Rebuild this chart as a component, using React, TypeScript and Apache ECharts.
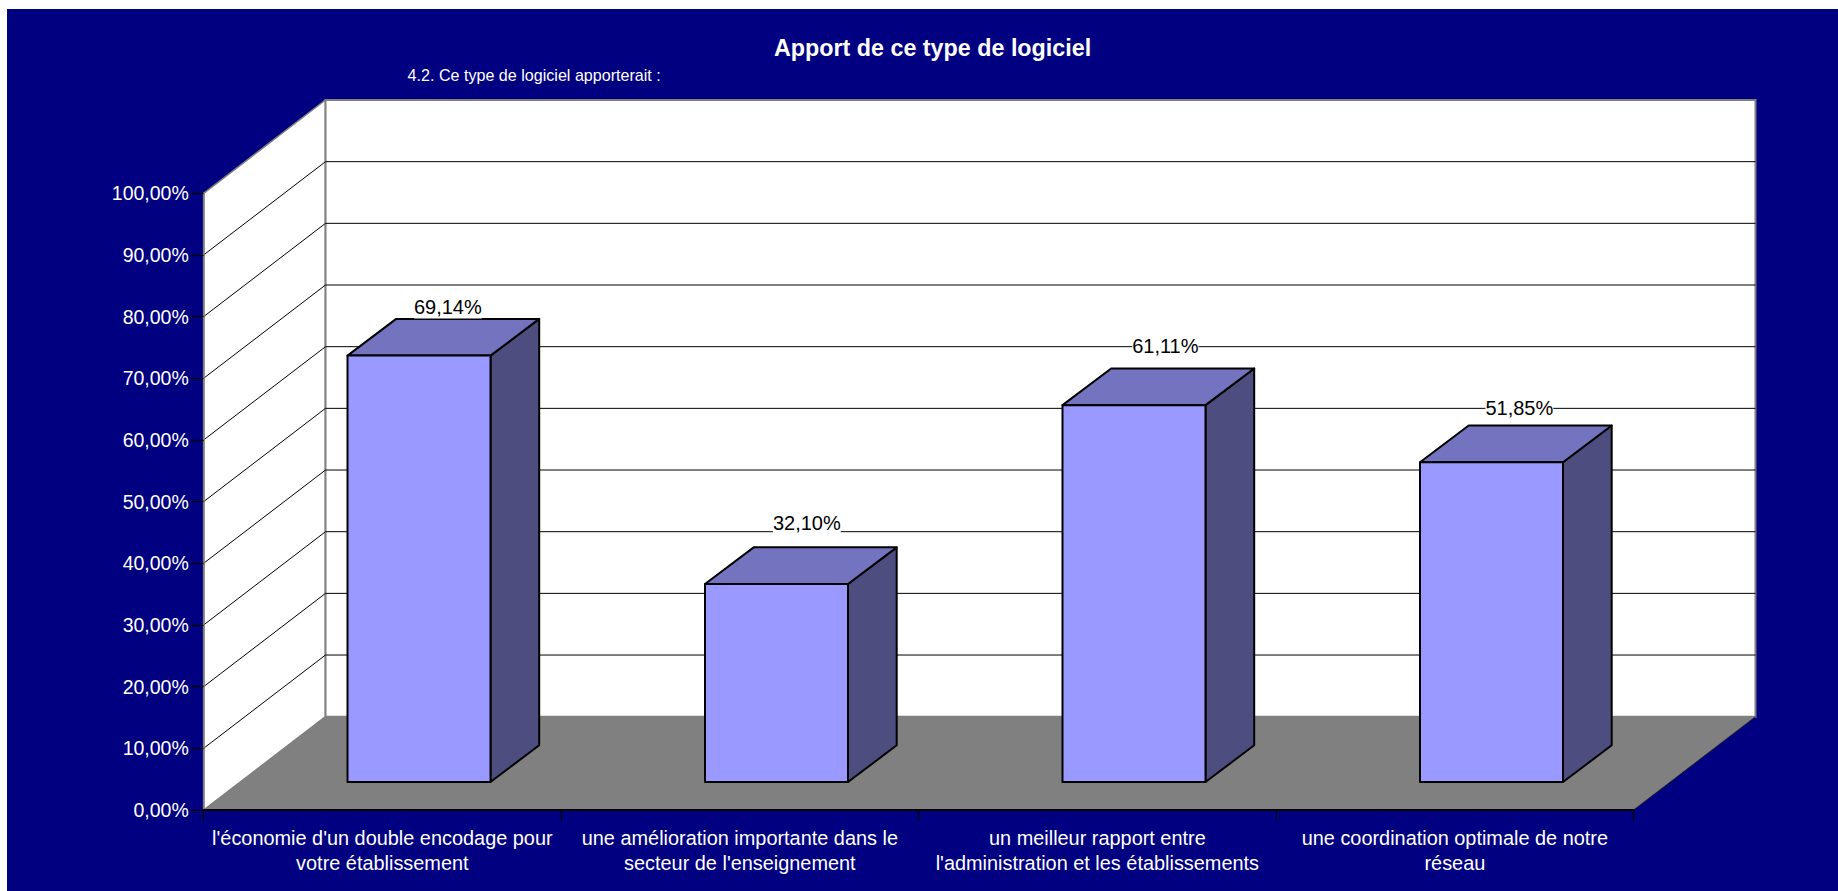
import React, { useEffect, useRef } from "react";
import * as echarts from "echarts";

const categories = [
  "l'économie d'un double encodage pour\nvotre établissement",
  "une amélioration importante dans le\nsecteur de l'enseignement",
  "un meilleur rapport entre\nl'administration et les établissements",
  "une coordination optimale de notre\nréseau",
];
const values = [69.14, 32.1, 61.11, 51.85];
const valueLabels = ["69,14%", "32,10%", "61,11%", "51,85%"];
const gridTicks = [10, 20, 30, 40, 50, 60, 70, 80, 90];
const titleText = "Apport de ce type de logiciel";
const subtitleText = "4.2. Ce type de logiciel apporterait :";

const FONT = '"Liberation Sans", Arial, sans-serif';
const WALL_DX = 121.9;
const WALL_DY = 93.3;
const BAR_DX = 48.7;
const BAR_DY = 36.7;
const FLOOR_DX = 36.65;
const FLOOR_DY = 28;
const LABEL_NUDGE = [
  [4.5, -12.3],
  [6, -24.5],
  [7, -22.4],
  [3.5, -18],
];

export default function App() {
  const ref = useRef<HTMLDivElement>(null);
  useEffect(() => {
    document.body.style.margin = "0";
    const chart = echarts.init(ref.current!, null, { renderer: "svg" });
    chart.setOption({
      animation: false,
      backgroundColor: "#ffffff",
      title: {
        text: titleText,
        left: 769,
        top: 31,
        textStyle: { color: "#ffffff", fontFamily: FONT, fontWeight: "bold", fontSize: 23.3 },
      },
      graphic: [
        { type: "rect", z: -10, shape: { x: 7, y: 9, width: 1831, height: 882 }, style: { fill: "#000080" } },
        {
          type: "text",
          z: 10,
          x: 407.6,
          y: 74.7,
          style: { text: subtitleText, fill: "#ffffff", font: `16.1px ${FONT}`, verticalAlign: "middle" },
        },
      ],
      grid: { left: 203.6, top: 193.3, width: 1430, height: 616.7 },
      xAxis: {
        type: "category",
        data: categories,
        z: 6,
        axisLine: { show: true, lineStyle: { color: "#000000", width: 2 } },
        axisTick: { show: true, alignWithLabel: false, length: 10.7, lineStyle: { color: "#000000", width: 1.2 } },
        axisLabel: { color: "#ffffff", fontFamily: FONT, fontSize: 19.9, lineHeight: 25, margin: 15, interval: 0 },
      },
      yAxis: {
        type: "value",
        min: 0,
        max: 100,
        interval: 10,
        z: 6,
        splitLine: { show: false },
        axisLine: { show: true, lineStyle: { color: "#808080", width: 1.5 } },
        axisTick: { show: true, length: 12.6, lineStyle: { color: "#000000", width: 1.2 } },
        axisLabel: {
          color: "#ffffff",
          fontFamily: FONT,
          fontSize: 19.5,
          margin: 14.8,
          formatter: (v: number) => v.toFixed(2).replace(".", ",") + "%",
        },
      },
      series: [
        {
          type: "custom",
          name: "walls",
          z: 1,
          silent: true,
          data: [[0]],
          encode: { x: 0 },
          renderItem: (p: any) => {
            const cs = p.coordSys;
            const x0 = cs.x;
            const x1 = cs.x + cs.width;
            const yTop = cs.y;
            const yBot = cs.y + cs.height;
            const edge = { stroke: "#808080", lineWidth: 1.5 };
            return {
              type: "group",
              children: [
                {
                  type: "polygon",
                  shape: { points: [[x0, yBot], [x0 + WALL_DX, yBot - WALL_DY], [x0 + WALL_DX, yTop - WALL_DY], [x0, yTop]] },
                  style: { fill: "#ffffff", ...edge },
                },
                {
                  type: "rect",
                  shape: { x: x0 + WALL_DX, y: yTop - WALL_DY, width: x1 - x0, height: yBot - yTop },
                  style: { fill: "#ffffff", ...edge, lineWidth: 2 },
                },
                {
                  type: "polygon",
                  shape: { points: [[x0, yBot], [x1, yBot], [x1 + WALL_DX, yBot - WALL_DY], [x0 + WALL_DX, yBot - WALL_DY]] },
                  style: { fill: "#808080" },
                },
                {
                  type: "line",
                  shape: { x1: x1, y1: yBot, x2: x1 + WALL_DX, y2: yBot - WALL_DY },
                  style: { stroke: "#1a1a1a", lineWidth: 0.8 },
                },
              ],
            };
          },
        },
        {
          type: "custom",
          name: "grid",
          z: 2,
          silent: true,
          data: gridTicks.map((t) => [0, t]),
          encode: { y: 1 },
          renderItem: (p: any, api: any) => {
            const cs = p.coordSys;
            const y = api.coord([0, api.value(1)])[1];
            const x0 = cs.x;
            const x1 = cs.x + cs.width;
            const line = { stroke: "#000000", lineWidth: 1 };
            return {
              type: "group",
              children: [
                { type: "line", shape: { x1: x0, y1: y, x2: x0 + WALL_DX, y2: y - WALL_DY }, style: line },
                { type: "line", shape: { x1: x0 + WALL_DX, y1: y - WALL_DY, x2: x1 + WALL_DX, y2: y - WALL_DY }, style: line },
              ],
            };
          },
        },
        {
          type: "custom",
          name: "bars",
          z: 3,
          silent: true,
          data: values.map((v, i) => [i, v]),
          encode: { x: 0, y: 1 },
          renderItem: (p: any, api: any) => {
            const i = api.value(0);
            const top = api.coord([i, api.value(1)]);
            const base = api.coord([i, 0]);
            const w = api.size([1, 0])[0] * 0.4;
            const l = base[0] + FLOOR_DX - w / 2;
            const r = l + w;
            const yT = top[1] - FLOOR_DY;
            const yB = base[1] - FLOOR_DY;
            const stroke = { stroke: "#000000", lineWidth: 2, lineJoin: "round" };
            const [nx, ny] = LABEL_NUDGE[i];
            return {
              type: "group",
              children: [
                { type: "polygon", shape: { points: [[r, yT], [r + BAR_DX, yT - BAR_DY], [r + BAR_DX, yB - BAR_DY], [r, yB]] }, style: { fill: "#4D4D80", ...stroke } },
                { type: "polygon", shape: { points: [[l, yT], [l + BAR_DX, yT - BAR_DY], [r + BAR_DX, yT - BAR_DY], [r, yT]] }, style: { fill: "#7373BF", ...stroke } },
                { type: "rect", shape: { x: l, y: yT, width: w, height: yB - yT }, style: { fill: "#9999FF", ...stroke } },
                {
                  type: "text",
                  x: (l + r + BAR_DX) / 2 + nx,
                  y: yT - BAR_DY + ny,
                  z2: 10,
                  style: {
                    text: valueLabels[i],
                    fill: "#000000",
                    font: `20px ${FONT}`,
                    align: "center",
                    verticalAlign: "middle",
                    backgroundColor: "#ffffff",
                    padding: [2, 0, 2, 0],
                  },
                },
              ],
            };
          },
        },
      ],
    });
    return () => chart.dispose();
  }, []);
  return <div ref={ref} style={{ position: "absolute", left: 0, top: 0, width: 1838, height: 891 }} />;
}
